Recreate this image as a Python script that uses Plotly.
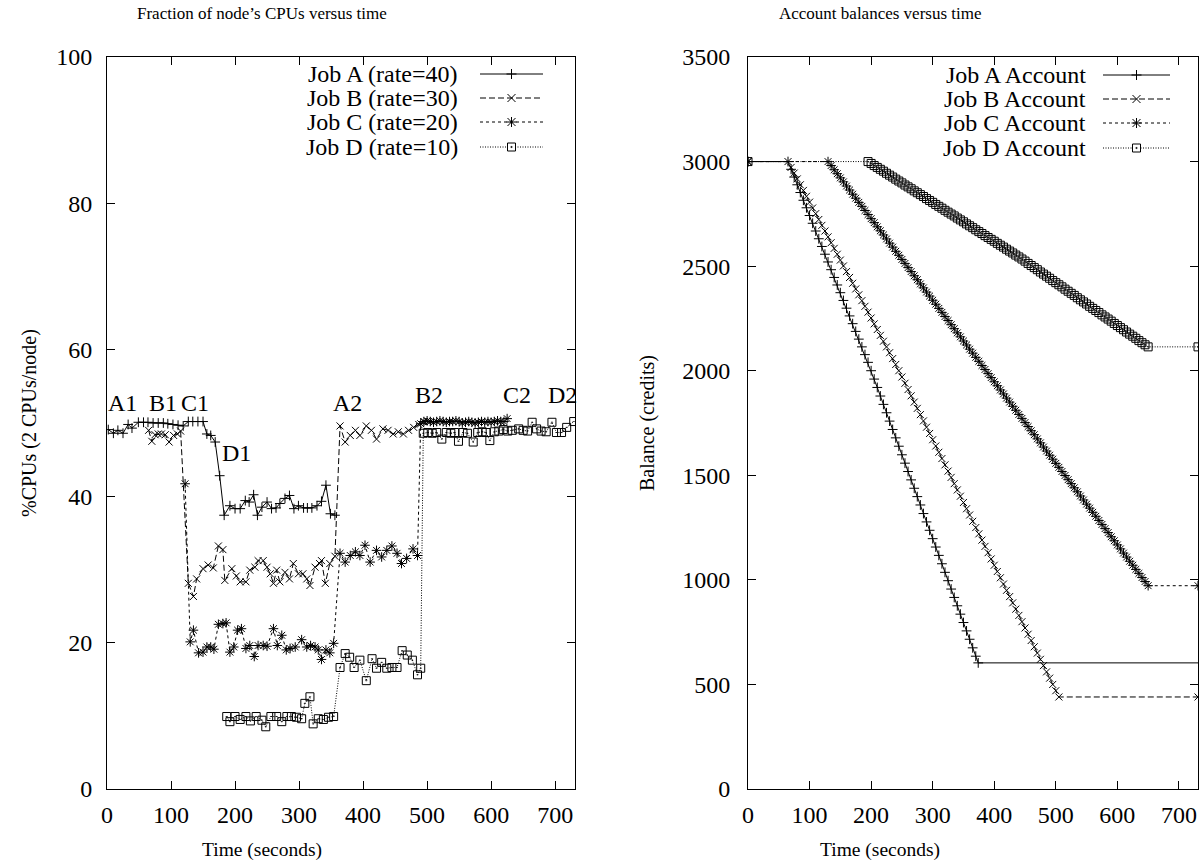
import plotly.graph_objects as go

W, H = 1201, 865
FONT = "Liberation Serif"

# ---------------- Left chart: % of node CPUs vs time ----------------
a_t = [2, 10, 17, 25, 33, 39, 49, 57, 64, 72, 80, 88, 95, 103, 111, 119, 127, 134, 142, 150,
       156, 162, 169, 176, 183, 192, 200, 208, 216, 222, 229, 235, 242, 250, 257, 264, 270, 278,
       285, 292, 299, 307, 313, 320, 328, 335, 342, 349, 356]
a_v = [49.1, 48.6, 49.0, 48.6, 49.8, 49.3, 50.1, 50.1, 50.1, 50.0, 50.0, 50.0, 49.9, 49.8, 49.7, 49.6,
       50.2, 50.2, 50.2, 50.2, 48.5, 48.3, 47.4, 42.8, 37.4, 38.7, 38.3, 38.3, 39.4, 39.2, 40.2, 37.4,
       38.5, 39.2, 38.3, 38.4, 39.0, 39.7, 40.1, 38.3, 38.7, 38.4, 38.4, 38.4, 38.7, 39.3, 41.5, 37.6, 37.4]

b_t = [65, 70, 75, 80, 85, 91, 97, 104, 110, 115, 127, 135, 140, 150, 158, 166, 174, 181, 184, 195,
       202, 208, 217, 223, 231, 236, 244, 250, 255, 260, 265, 270, 278, 285, 291, 299, 306, 312, 317,
       325, 332, 335, 341, 348, 356, 364, 372, 380, 388, 395, 405, 413, 421, 431, 439, 447, 455, 463,
       471, 479, 487, 495, 502]
b_v = [49.0, 47.5, 48.4, 48.5, 48.5, 48.4, 47.4, 48.3, 48.5, 48.9, 28.1, 26.3, 28.7, 30.1, 30.6, 30.2,
       33.2, 32.7, 28.5, 30.1, 29.1, 28.3, 28.3, 29.9, 30.3, 31.2, 31.2, 30.3, 29.4, 28.1, 29.9, 28.3,
       29.6, 28.7, 30.8, 29.4, 29.4, 28.7, 27.8, 30.3, 30.8, 31.2, 28.1, 30.8, 31.8, 49.6, 47.4, 48.3,
       49.0, 48.3, 49.6, 49.0, 47.8, 49.2, 49.0, 48.5, 48.8, 48.5, 49.0, 49.4, 49.8, 50.2, 50.2]

c_t = [122, 130, 135, 143, 150, 156, 162, 167, 174, 181, 186, 192, 198, 204, 210, 217, 223, 230, 236,
       244, 250, 260, 266, 273, 280, 286, 294, 304, 312, 318, 325, 330, 335, 342, 348, 354, 364, 372,
       380, 388, 395, 403, 411, 421, 429, 437, 445, 453, 460, 468, 478, 485, 490, 495, 500, 505, 510,
       515, 520, 525, 530, 535, 540, 545, 550, 555, 560, 565, 570, 575, 580, 585, 590, 595, 600, 605,
       610, 615, 620, 625]
c_v = [41.7, 20.1, 21.7, 18.6, 18.7, 19.4, 19.4, 19.1, 22.5, 22.6, 22.7, 18.7, 19.4, 21.7, 21.9, 19.2,
       19.6, 18.1, 19.6, 19.6, 19.5, 21.9, 19.6, 21.0, 19.0, 19.2, 19.4, 20.4, 19.4, 19.6, 19.4, 19.0,
       17.7, 19.0, 18.6, 19.9, 32.2, 31.0, 31.9, 32.4, 31.9, 33.3, 31.0, 32.6, 31.7, 32.6, 33.2, 32.2,
       30.8, 31.5, 32.8, 31.9, 49.9, 50.2, 50.3, 50.2, 50.1, 50.2, 50.3, 50.2, 50.1, 50.2, 50.2, 50.3,
       50.2, 50.0, 50.1, 50.2, 50.1, 50.0, 50.1, 50.2, 50.1, 50.2, 50.1, 50.2, 50.3, 50.2, 50.2, 50.6]

d_t = [187, 192, 200, 208, 217, 224, 233, 242, 248, 256, 265, 273, 281, 288, 296, 304, 309, 317, 322,
       330, 338, 346, 354, 364, 372, 379, 386, 395, 405, 414, 421, 429, 437, 445, 453, 461, 469, 477,
       485, 490, 494, 501, 508, 515, 523, 530, 537, 543, 549, 556, 563, 572, 579, 586, 592, 598, 605,
       612, 619, 626, 633, 643, 650, 657, 664, 671, 678, 686, 695, 702, 710, 718, 729]
d_v = [9.9, 9.2, 9.9, 9.5, 9.9, 9.3, 9.9, 9.4, 8.5, 9.9, 9.9, 9.2, 9.9, 9.9, 9.8, 9.6, 11.7, 12.6, 8.9,
       9.6, 9.5, 9.8, 9.9, 16.6, 18.5, 18.0, 16.6, 17.6, 14.8, 17.8, 16.5, 17.3, 16.5, 16.6, 16.6, 18.9,
       18.3, 17.6, 15.6, 16.5, 48.6, 48.7, 48.6, 48.7, 47.8, 48.7, 48.6, 48.7, 47.5, 48.7, 48.6, 47.4,
       48.7, 48.8, 48.7, 47.6, 48.8, 48.9, 49.1, 48.9, 49.0, 49.2, 49.0, 48.9, 50.1, 49.2, 48.9, 48.8,
       50.1, 48.7, 48.7, 49.4, 50.2]

event_labels = ["A1", "B1", "C1", "D1", "A2", "B2", "C2", "D2"]
event_t = [24, 87, 138, 203, 375, 503, 641, 711]
event_v = [52.8, 52.8, 52.8, 45.9, 52.8, 53.8, 53.8, 53.8]

left_names = ["Job A (rate=40)", "Job B (rate=30)", "Job C (rate=20)", "Job D (rate=10)"]

# ---------------- Right chart: account balances vs time ----------------
ab_t = [0, 65, 70, 75, 80, 85, 90, 95, 100, 105, 110, 115, 120, 125, 130, 135, 140, 145, 150, 155,
        160, 165, 170, 175, 180, 185, 190, 195, 200, 205, 210, 215, 220, 225, 230, 235, 240, 245, 250,
        255, 260, 265, 270, 275, 280, 285, 290, 295, 300, 305, 310, 315, 320, 325, 330, 335, 340, 345,
        350, 355, 360, 365, 370, 374, 745]
ab_v = [3000, 3000, 2963, 2926, 2889, 2852, 2815, 2779, 2742, 2705, 2668, 2631, 2594, 2557, 2520,
        2483, 2446, 2410, 2373, 2336, 2299, 2262, 2225, 2188, 2151, 2114, 2077, 2040, 2000, 1960,
        1920, 1879, 1839, 1799, 1759, 1719, 1679, 1639, 1598, 1558, 1518, 1478, 1438, 1398, 1358,
        1317, 1277, 1237, 1197, 1157, 1117, 1077, 1036, 996, 956, 916, 876, 836, 796, 756, 716, 675,
        635, 603, 603]

bb_t = [0, 65, 70, 75, 80, 85, 90, 95, 100, 105, 110, 115, 120, 125, 130, 135, 140, 145, 150, 155,
        160, 165, 170, 175, 180, 185, 190, 195, 200, 205, 210, 215, 220, 225, 230, 235, 240, 245, 250,
        255, 260, 265, 270, 275, 280, 285, 290, 295, 300, 305, 310, 315, 320, 325, 330, 335, 340, 345,
        350, 355, 360, 365, 370, 375, 380, 385, 390, 395, 400, 405, 410, 415, 420, 425, 430, 435, 440,
        445, 450, 455, 460, 465, 470, 475, 480, 485, 490, 495, 500, 505, 731]
bb_v = [3000, 3000, 2972, 2945, 2917, 2889, 2862, 2834, 2806, 2778, 2751, 2723, 2695, 2668, 2640,
        2612, 2585, 2557, 2529, 2501, 2474, 2446, 2418, 2391, 2363, 2335, 2308, 2280, 2252, 2224,
        2197, 2169, 2141, 2114, 2086, 2058, 2030, 2000, 1970, 1940, 1910, 1880, 1850, 1820, 1790,
        1760, 1730, 1700, 1670, 1640, 1610, 1580, 1550, 1520, 1490, 1460, 1430, 1400, 1370, 1340,
        1310, 1280, 1250, 1220, 1190, 1160, 1130, 1100, 1070, 1040, 1010, 980, 950, 920, 890, 860,
        830, 800, 770, 740, 710, 680, 650, 620, 590, 560, 530, 500, 470, 440, 440]

cb_t = [0, 130, 135, 140, 145, 150, 155, 160, 165, 170, 175, 180, 185, 190, 195, 200, 205, 210, 215,
        220, 225, 230, 235, 240, 245, 250, 255, 260, 265, 270, 275, 280, 285, 290, 295, 300, 305, 310,
        315, 320, 325, 330, 335, 340, 345, 350, 355, 360, 365, 370, 375, 380, 385, 390, 395, 400, 405,
        410, 415, 420, 425, 430, 435, 440, 445, 450, 455, 460, 465, 470, 475, 480, 485, 490, 495, 500,
        505, 510, 515, 520, 525, 530, 535, 540, 545, 550, 555, 560, 565, 570, 575, 580, 585, 590, 595,
        600, 605, 610, 615, 620, 625, 630, 635, 640, 645, 650, 731]
cb_v = [3000, 3000, 2981, 2961, 2942, 2922, 2903, 2883, 2864, 2844, 2825, 2805, 2786, 2766, 2747,
        2727, 2708, 2688, 2669, 2649, 2630, 2610, 2591, 2571, 2552, 2532, 2513, 2493, 2474, 2454,
        2435, 2415, 2396, 2376, 2357, 2337, 2318, 2298, 2279, 2259, 2240, 2220, 2201, 2181, 2162,
        2142, 2123, 2103, 2084, 2064, 2045, 2025, 2006, 1986, 1967, 1947, 1928, 1908, 1889, 1869,
        1850, 1830, 1811, 1791, 1772, 1752, 1733, 1713, 1694, 1674, 1655, 1635, 1616, 1596, 1577,
        1557, 1538, 1518, 1499, 1479, 1460, 1440, 1421, 1401, 1382, 1362, 1343, 1323, 1304, 1284,
        1265, 1245, 1226, 1206, 1187, 1167, 1148, 1128, 1109, 1089, 1070, 1050, 1031, 1011, 992, 972, 972]

db_t = [0, 195, 200, 205, 210, 215, 220, 225, 230, 235, 240, 245, 250, 255, 260, 265, 270, 275, 280,
        285, 290, 295, 300, 305, 310, 315, 320, 325, 330, 335, 340, 345, 350, 355, 360, 365, 370, 375,
        380, 385, 390, 395, 400, 405, 410, 415, 420, 425, 430, 435, 440, 445, 450, 455, 460, 465, 470,
        475, 480, 485, 490, 495, 500, 505, 510, 515, 520, 525, 530, 535, 540, 545, 550, 555, 560, 565,
        570, 575, 580, 585, 590, 595, 600, 605, 610, 615, 620, 625, 630, 635, 640, 645, 650, 731]
db_v = [3000, 3000, 2991, 2981, 2972, 2963, 2954, 2944, 2935, 2926, 2916, 2907, 2898, 2888, 2879,
        2870, 2860, 2851, 2842, 2833, 2823, 2814, 2805, 2795, 2786, 2777, 2767, 2758, 2749, 2740,
        2730, 2721, 2712, 2702, 2693, 2684, 2674, 2665, 2656, 2646, 2637, 2628, 2619, 2609, 2600,
        2591, 2581, 2572, 2563, 2553, 2544, 2534, 2524, 2513, 2503, 2493, 2483, 2472, 2462, 2452,
        2442, 2431, 2421, 2411, 2401, 2390, 2380, 2370, 2360, 2349, 2339, 2329, 2319, 2308, 2298,
        2288, 2278, 2267, 2257, 2247, 2237, 2226, 2216, 2206, 2196, 2185, 2175, 2165, 2155, 2144,
        2134, 2124, 2114, 2114]

right_names = ["Job A Account", "Job B Account", "Job C Account", "Job D Account"]

x_ticks = [0, 100, 200, 300, 400, 500, 600, 700]
left_y_ticks = [0, 20, 40, 60, 80, 100]
right_y_ticks = [0, 500, 1000, 1500, 2000, 2500, 3000, 3500]

# ---------------- styles ----------------
dashes = ["solid", "6px,3px", "3px,3px", "1px,1.5px"]
symbols = ["cross-thin-open", "x-thin-open", "asterisk-open", "square-open-dot"]
msizes = [7, 7, 8, 8]

fig = go.Figure()

left_series = [(a_t, a_v), (b_t, b_v), (c_t, c_v), (d_t, d_v)]
right_series = [(ab_t, ab_v), (bb_t, bb_v), (cb_t, cb_v), (db_t, db_v)]

for i, (t, v) in enumerate(left_series):
    fig.add_trace(go.Scatter(
        x=t, y=v, mode="lines+markers", name=left_names[i], showlegend=False,
        line=dict(color="black", width=1, dash=dashes[i]),
        marker=dict(symbol=symbols[i], size=msizes[i], color="black",
                    line=dict(color="black", width=1)),
        xaxis="x", yaxis="y"))

for i, (t, v) in enumerate(right_series):
    fig.add_trace(go.Scatter(
        x=t, y=v, mode="lines+markers", name=right_names[i], showlegend=False,
        line=dict(color="black", width=1, dash=dashes[i]),
        marker=dict(symbol=symbols[i], size=msizes[i], color="black",
                    line=dict(color="black", width=1)),
        xaxis="x2", yaxis="y2"))

# ---------------- layout ----------------
def P(px, py):
    return px / W, 1 - py / H

L0, L1 = 107, 575
R0, R1 = 748, 1198
TOP, BOT = 57, 789

axis_common = dict(
    showgrid=False, zeroline=False, showline=True, linecolor="black", linewidth=1,
    mirror="ticks", ticks="inside", ticklen=8, tickwidth=1, tickcolor="black",
    tickfont=dict(family=FONT, size=24, color="black"), automargin=False,
)

fig.update_layout(
    width=W, height=H,
    margin=dict(l=0, r=0, t=0, b=0),
    paper_bgcolor="white", plot_bgcolor="white",
    showlegend=False,
    xaxis=dict(domain=[L0 / W, L1 / W], range=[0, 731], tickvals=x_ticks,
               anchor="y", ticklabelstandoff=4, **axis_common),
    yaxis=dict(domain=[1 - BOT / H, 1 - TOP / H], range=[0, 100], tickvals=left_y_ticks,
               anchor="x", ticklabelstandoff=9, **axis_common),
    xaxis2=dict(domain=[R0 / W, R1 / W], range=[0, 731], tickvals=x_ticks,
                anchor="y2", ticklabelstandoff=4, **axis_common),
    yaxis2=dict(domain=[1 - BOT / H, 1 - TOP / H], range=[0, 3500], tickvals=right_y_ticks,
                anchor="x2", ticklabelstandoff=12, **axis_common),
)

annots = []

def text_at(px, py, s, size, angle=0, xanchor="center"):
    x, y = P(px, py)
    annots.append(dict(x=x, y=y, xref="paper", yref="paper", text=s, showarrow=False,
                       xanchor=xanchor, yanchor="middle", textangle=angle,
                       font=dict(family=FONT, size=size, color="black")))

# titles and axis titles
text_at(262, 13, "Fraction of node\u2019s CPUs versus time", 17)
text_at(880, 13, "Account balances versus time", 17)
text_at(262, 850, "Time (seconds)", 19.5)
text_at(880, 850, "Time (seconds)", 19.5)
text_at(30, 423, "%CPUs (2 CPUs/node)", 20, angle=-90)
text_at(648, 423, "Balance (credits)", 20, angle=-90)

# event labels on left chart
for lab, t, v in zip(event_labels, event_t, event_v):
    annots.append(dict(x=t, y=v, xref="x", yref="y", text=lab, showarrow=False,
                       xanchor="center", yanchor="middle",
                       font=dict(family=FONT, size=24, color="black")))

# manual legends
shapes = []

def seg(x0, y0, x1, y1, dash="solid"):
    a0, b0 = P(x0, y0)
    a1, b1 = P(x1, y1)
    shapes.append(dict(type="line", xref="paper", yref="paper", x0=a0, y0=b0, x1=a1, y1=b1,
                       line=dict(color="black", width=1, dash=dash)))

def key(xt, x0, x1, y, name, idx):
    text_at(xt, y, name, 24, xanchor="right")
    seg(x0, y, x1, y, dashes[idx])
    xc = (x0 + x1) / 2
    if idx in (0, 2):
        seg(xc - 5, y, xc + 5, y)
        seg(xc, y - 5, xc, y + 5)
    if idx in (1, 2):
        seg(xc - 4, y - 4, xc + 4, y + 4)
        seg(xc - 4, y + 4, xc + 4, y - 4)
    if idx == 3:
        a0, b0 = P(xc - 4, y - 4)
        a1, b1 = P(xc + 4, y + 4)
        shapes.append(dict(type="rect", xref="paper", yref="paper", x0=a0, y0=b0, x1=a1, y1=b1,
                           line=dict(color="black", width=1), fillcolor="white"))
        a0, b0 = P(xc - 0.6, y - 0.6)
        a1, b1 = P(xc + 0.6, y + 0.6)
        shapes.append(dict(type="rect", xref="paper", yref="paper", x0=a0, y0=b0, x1=a1, y1=b1,
                           line=dict(color="black", width=0.5), fillcolor="black"))

left_rows = [74, 98, 122, 147]
right_rows = [75, 99, 123, 148]
for i in range(4):
    key(460, 480, 543, left_rows[i], left_names[i], i)
    key(1088, 1103, 1170, right_rows[i], right_names[i], i)

fig.update_layout(annotations=annots, shapes=shapes)

fig.write_html(
    "out.html",
    config={"displayModeBar": False},
    post_script="document.body.style.margin='0';document.documentElement.style.overflow='hidden';",
)
